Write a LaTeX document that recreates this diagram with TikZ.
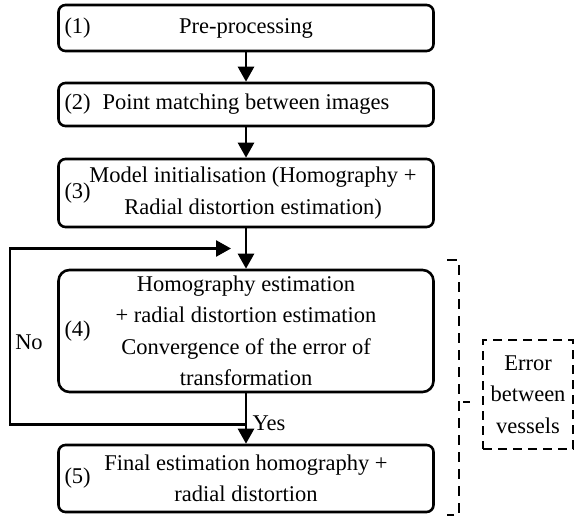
\documentclass[tikz,border=0pt]{standalone}
\usepackage{fontspec}
\setmainfont{Liberation Serif}
\usetikzlibrary{arrows.meta,positioning,calc}

\begin{document}
\begin{tikzpicture}[
  x=1pt, y=-1pt,
  >={Triangle[length=15pt,width=16pt]},
  line width=2.6pt,
  font=\fontsize{22.5}{31.5}\selectfont,
  stage/.style={rectangle, draw, rounded corners=7pt, minimum width=375pt, align=center, inner sep=0pt},
  stepnum/.style={anchor=west, inner sep=0pt},
  flow/.style={->, line width=2.6pt},
  bracket/.style={dash pattern=on 10pt off 7pt, line width=2.4pt}
]
  \useasboundingbox (0,0) rectangle (580,518);

  \node[stage, minimum height=46pt] (pre) at (246,28) {Pre-processing};
  \node[stage, minimum height=43pt] (match) at (246,104.5) {Point matching between images};
  \node[stage, minimum height=68pt] (init) at (246,193) {\hspace*{14pt}Model initialisation (Homography +\\\hspace*{14pt}Radial distortion estimation)};
  \node[stage, minimum height=122pt, rounded corners=11pt] (est) at (246,331) {Homography estimation\\+ radial distortion estimation\\Convergence of the error of\\transformation};
  \node[stage, minimum height=67pt] (final) at (246,478.5) {Final estimation homography +\\radial distortion};

  \foreach \b/\n in {pre/1, match/2, init/3, est/4, final/5}
    \node[stepnum] (num\n) at ([xshift=6pt]\b.west) {(\n)};

  % error box on the right
  \node[rectangle, draw, dash pattern=on 9pt off 6pt, line width=2.4pt, minimum width=90pt, minimum height=109pt, align=center, inner sep=0pt] (err) at (528,394.5) {Error\\between\\vessels};

  \draw[flow] (pre) -- (match);
  \draw[flow] (match) -- (init);
  \draw[flow] (init) -- (est);
  \coordinate (yesjoin) at ($(est.south)!0.62!(final.north)$);
  \coordinate (noend) at ([xshift=-15pt]$(init.south)!0.5!(est.north)$);
  \coordinate (loopx) at (10,335);
  \draw[flow] (est) -- (final) node[pos=0.6, right=2pt] {Yes};
  \draw[flow] (yesjoin) -| (loopx) |- (noend);
  \node (no) at (29,342) {No};

  % dashed bracket
  \coordinate (brtop) at (459,260);
  \coordinate (brbot) at (459,515);
  \coordinate (brmid) at (459,402);
  \draw[bracket] ([xshift=-12pt]brtop) -- (brtop) -- (brbot) -- ([xshift=-12pt]brbot);
  \draw[line width=2.4pt] ([xshift=4pt]brmid) -- ([xshift=11pt]brmid);
\end{tikzpicture}
\end{document}
